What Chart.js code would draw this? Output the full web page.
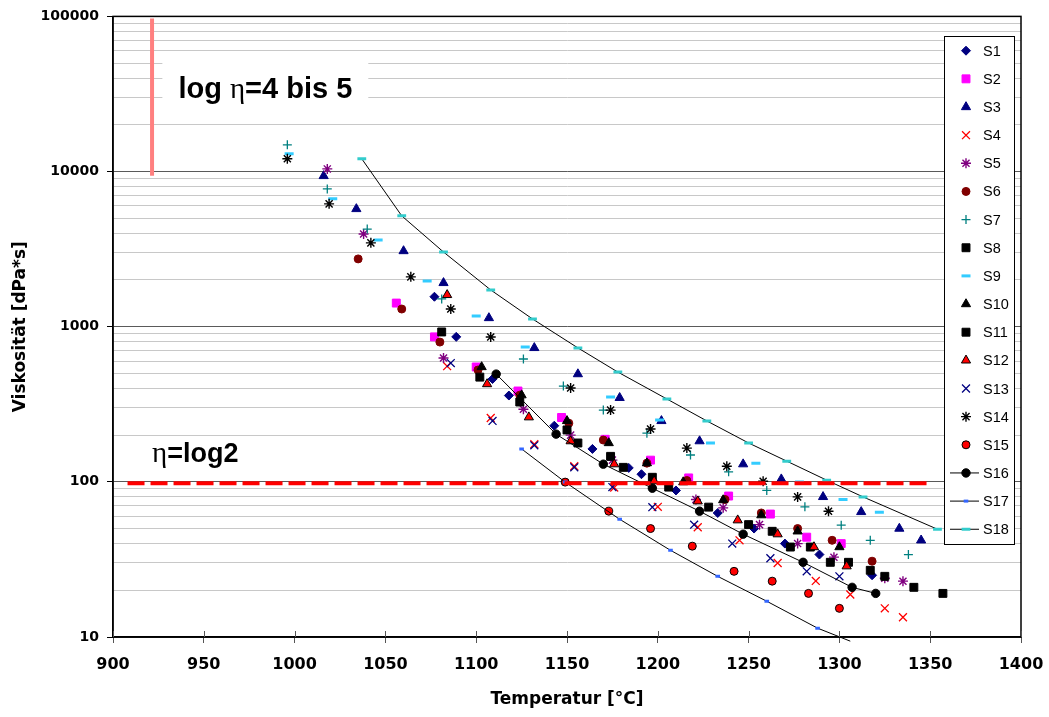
<!DOCTYPE html>
<html>
<head>
<meta charset="utf-8">
<script src="https://cdn.jsdelivr.net/npm/chart.js@4.4.1/dist/chart.umd.min.js"></script>
<style>
  html, body { margin: 0; padding: 0; background: #fff; }
  canvas { display: block; }
</style>
</head>
<body>
<canvas id="viscChart" width="1049" height="717"></canvas>
<script>
// Temperature (°C) / viscosity (dPa*s) per series
const S1x = [1077, 1089, 1109, 1118, 1143, 1164, 1184, 1191, 1210, 1233, 1253, 1270, 1289, 1318];
const S1y = [1560, 860, 460, 360, 230, 163, 123, 112, 88, 63, 50, 40, 34, 25];
const S2x = [1056, 1077, 1100, 1123, 1147, 1171, 1196, 1217, 1239, 1262, 1282, 1301];
const S2y = [1420, 860, 550, 385, 260, 188, 138, 106, 81, 62, 44, 40];
const S3x = [1016, 1034, 1060, 1082, 1107, 1132, 1156, 1179, 1202, 1223, 1247, 1268, 1291, 1312, 1333, 1345];
const S3y = [9370, 5740, 3075, 1915, 1138, 730, 495, 348, 247, 183, 130, 104, 80, 64, 50, 42];
const S4x = [1084, 1108, 1132, 1154, 1176, 1200, 1222, 1245, 1266, 1287, 1306, 1325, 1335];
const S4y = [557, 258, 175, 126, 92, 69, 51, 42, 30, 23, 18.8, 15.3, 13.4];
const S5x = [1018, 1038, 1082, 1126, 1152, 1175, 1221, 1236, 1256, 1277, 1297, 1325, 1335];
const S5y = [10400, 3960, 628, 294, 200, 138, 77, 68, 53, 40, 32.7, 23.9, 22.9];
const S6x = [1035, 1059, 1080, 1101, 1124, 1151, 1170, 1194, 1216, 1237, 1257, 1277, 1296, 1318];
const S6y = [2735, 1300, 796, 526, 362, 239, 186, 132, 102, 77, 63, 50, 42, 30.8];
const S7x = [996, 1018, 1040, 1081, 1126, 1148, 1170, 1194, 1218, 1239, 1260, 1281, 1301, 1317, 1338];
const S7y = [14860, 7730, 4260, 1510, 619, 414, 290, 206, 149, 116, 88, 69, 52.6, 42, 34];
const S8x = [1081, 1124, 1156, 1181, 1206, 1250, 1273, 1295, 1317, 1341, 1357];
const S8y = [925, 327, 178, 124, 92.5, 53, 38, 30.3, 26.9, 20.9, 19.1];
const S9x = [997, 1021, 1046, 1073, 1100, 1127, 1174, 1201, 1229, 1254, 1278, 1302, 1322];
const S9y = [13000, 6670, 3620, 1970, 1172, 740, 352, 250, 178, 132, 99.6, 77, 63.7];
const S10x = [1103, 1125, 1150, 1173, 1194, 1214, 1236, 1257, 1277, 1300];
const S10y = [550, 362, 247, 178, 132, 99.6, 76.3, 61, 48, 38];
const S11x = [1102, 1150, 1174, 1197, 1228, 1263, 1284, 1305, 1325];
const S11y = [473, 216, 146, 107, 68.7, 48, 38, 30.3, 24.6];
const S12x = [1084, 1106, 1129, 1152, 1176, 1198, 1222, 1244, 1266, 1286, 1304];
const S12y = [1603, 427, 261, 183, 130, 101, 75, 56.6, 46, 38, 28.6];
const S13x = [1086, 1109, 1132, 1154, 1175, 1197, 1220, 1241, 1262, 1282, 1300];
const S13y = [583, 247, 172, 124, 92.5, 68.7, 53, 40, 32.2, 26.5, 24.6];
const S14x = [996, 1019, 1042, 1064, 1086, 1108, 1152, 1174, 1196, 1216, 1238, 1258, 1277, 1294];
const S14y = [12080, 6190, 3470, 2095, 1300, 859, 403, 290, 219, 165, 126, 101, 80, 64.7];
const S15x = [1149, 1173, 1196, 1219, 1242, 1263, 1283, 1300];
const S15y = [99.6, 64.7, 50, 38.5, 26.5, 22.9, 19.1, 15.3];
const S16x = [1111, 1144, 1170, 1197, 1223, 1247, 1280, 1307, 1320];
const S16y = [495, 203, 130, 91, 64.7, 46, 30.3, 20.9, 19.1];
const S17x = [1125, 1149, 1179, 1207, 1233, 1260, 1288, 1306];
const S17y = [163, 99.6, 57.4, 36.2, 24.6, 17, 11.4, 9.4];
const S18x = [1037, 1059, 1082, 1108, 1131, 1156, 1178, 1205, 1227, 1250, 1271, 1293, 1313, 1354];
const S18y = [12080, 5180, 3030, 1725, 1122, 730, 510, 342, 247, 178, 136, 102.5, 80, 49.5];

const seriesNames = ["S1", "S2", "S3", "S4", "S5", "S6", "S7", "S8", "S9",
  "S10", "S11", "S12", "S13", "S14", "S15", "S16", "S17", "S18"];
const seriesX = [S1x, S2x, S3x, S4x, S5x, S6x, S7x, S8x, S9x, S10x, S11x, S12x, S13x, S14x, S15x, S16x, S17x, S18x];
const seriesY = [S1y, S2y, S3y, S4y, S5y, S6y, S7y, S8y, S9y, S10y, S11y, S12y, S13y, S14y, S15y, S16y, S17y, S18y];

// reference lines
const limitLineX = [908, 1349];   // eta = log2
const limitLineY = [98, 98];
const rangeLineX = [921.5, 921.5]; // log eta = 4 .. 5
const rangeLineY = [9400, 97000];

// axis ticks
const xTickLabels = ["900", "950", "1000", "1050", "1100", "1150", "1200", "1250", "1300", "1350", "1400"];
const yTickLabels = ["10", "100", "1000", "10000", "100000"];

// text labels (x / y of text start)
const rangeLabelPos = [936, 29800];
const limitLabelPos = [921.5, 134];

// marker styles per series
const styles = [
  { ps: "rectRot", r: 4.5, fill: "#000080", stroke: "#000080", bw: 1 },
  { ps: "rect", r: 5.6, fill: "#ff00ff", stroke: "#ff00ff", bw: 1 },
  { ps: "triangle", r: 5.3, fill: "#000080", stroke: "#000080", bw: 1 },
  { ps: "crossRot", r: 5.6, fill: "#ff0000", stroke: "#ff0000", bw: 1.3 },
  { ps: "star", r: 5, fill: "#800080", stroke: "#800080", bw: 1.4 },
  { ps: "circle", r: 4, fill: "#800000", stroke: "#800000", bw: 1 },
  { ps: "cross", r: 4.5, fill: "#008080", stroke: "#008080", bw: 1.3 },
  { ps: "rect", r: 5.6, fill: "#000000", stroke: "#000000", bw: 1 },
  { ps: "line", r: 4.5, fill: "#33ccff", stroke: "#33ccff", bw: 3 },
  { ps: "triangle", r: 5.3, fill: "#000000", stroke: "#000000", bw: 1 },
  { ps: "rect", r: 5.6, fill: "#000000", stroke: "#000000", bw: 1 },
  { ps: "triangle", r: 5.3, fill: "#ff0000", stroke: "#000000", bw: 1 },
  { ps: "crossRot", r: 5.6, fill: "#000080", stroke: "#000080", bw: 1.3 },
  { ps: "star", r: 5, fill: "#000000", stroke: "#000000", bw: 1.4 },
  { ps: "circle", r: 4, fill: "#ff0000", stroke: "#000000", bw: 1 },
  { ps: "circle", r: 4.2, fill: "#000000", stroke: "#000000", bw: 1, line: true },
  { ps: "line", r: 2.3, fill: "#3366ff", stroke: "#3366ff", bw: 3, line: true },
  { ps: "line", r: 4.4, fill: "#33cccc", stroke: "#33cccc", bw: 3, line: true },
];

const FONT = '"DejaVu Sans", Arial, sans-serif';

function isDecade(v) {
  const l = Math.log10(v);
  return Math.abs(l - Math.round(l)) < 1e-9;
}

// gridline values: 1..9 per decade
const yGridValues = [];
for (let e = 1; e <= 4; e++) {
  for (let m = 1; m <= 9; m++) yGridValues.push(m * Math.pow(10, e));
}
yGridValues.push(100000);

const datasets = seriesNames.map((name, i) => {
  const s = styles[i];
  return {
    label: name,
    data: seriesX[i].map((x, j) => ({ x: x, y: seriesY[i][j] })),
    showLine: !!s.line,
    borderColor: "#000000",
    borderWidth: 1,
    pointStyle: s.ps,
    // no marker for points that fall below the axis
    pointRadius: c => (c.raw && c.raw.y < 10 ? 0 : s.r),
    pointBackgroundColor: s.fill,
    pointBorderColor: s.stroke,
    pointBorderWidth: s.bw,
    order: 18 - i,
    clip: 10,
  };
});

datasets.push({
  label: "limit",
  data: limitLineX.map((x, j) => ({ x: x, y: limitLineY[j] })),
  showLine: true,
  borderColor: "#ff0000",
  borderWidth: 4,
  borderDash: [17, 6],
  pointRadius: 0,
  order: 0,
});
datasets.push({
  label: "range",
  data: rangeLineX.map((x, j) => ({ x: x, y: rangeLineY[j] })),
  showLine: true,
  borderColor: "#ff8080",
  borderWidth: 4,
  pointRadius: 0,
  order: 19,
});

function drawParts(ctx, parts, x, y) {
  let cx = x;
  parts.forEach(p => {
    ctx.font = p[1];
    ctx.fillText(p[0], cx, y);
    cx += ctx.measureText(p[0]).width;
  });
}
function partsWidth(ctx, parts) {
  let w = 0;
  parts.forEach(p => { ctx.font = p[1]; w += ctx.measureText(p[0]).width; });
  return w;
}

const annotations = {
  id: "annotations",
  beforeDatasetsDraw(chart) {
    const { ctx, scales: { x, y } } = chart;
    ctx.save();
    ctx.textBaseline = "alphabetic";
    const bold29 = 'bold 29px "Liberation Sans", Arial, sans-serif';
    const thin29 = '29px "Liberation Serif", serif';
    const rangeParts = [["log ", bold29], ["\u03b7", thin29], ["=4 bis 5", bold29]];
    const lx = x.getPixelForValue(rangeLabelPos[0]);
    const ly = y.getPixelForValue(rangeLabelPos[1]);
    const w = partsWidth(ctx, rangeParts);
    ctx.fillStyle = "#ffffff";
    ctx.fillRect(lx - 16, ly - 42, w + 32, 55);
    ctx.fillStyle = "#000000";
    drawParts(ctx, rangeParts, lx, ly);

    const bold27 = 'bold 27px "Liberation Sans", Arial, sans-serif';
    const thin27 = '29px "Liberation Serif", serif';
    drawParts(ctx, [["\u03b7", thin27], ["=log2", bold27]],
      x.getPixelForValue(limitLabelPos[0]), y.getPixelForValue(limitLabelPos[1]));
    ctx.restore();
  },
  afterDraw(chart) {
    const { ctx, chartArea: a, scales: { x } } = chart;
    ctx.save();
    // frame
    ctx.strokeStyle = "#000000";
    ctx.lineWidth = 1.5;
    ctx.strokeRect(a.left, a.top, a.right - a.left, a.bottom - a.top);
    // inner halves of x ticks
    ctx.lineWidth = 1;
    ctx.strokeStyle = "#555555";
    x.ticks.forEach(t => {
      const px = Math.round(x.getPixelForValue(t.value)) + 0.5;
      ctx.beginPath();
      ctx.moveTo(px, a.bottom);
      ctx.lineTo(px, a.bottom - 6);
      ctx.stroke();
    });

    // legend
    const box = { left: 944, top: 36, right: 1014, bottom: 544 };
    ctx.fillStyle = "#ffffff";
    ctx.fillRect(box.left, box.top, box.right - box.left, box.bottom - box.top);
    ctx.strokeStyle = "#000000";
    ctx.lineWidth = 1;
    ctx.strokeRect(box.left + 0.5, box.top + 0.5, box.right - box.left, box.bottom - box.top);
    ctx.font = '14.5px "Liberation Sans", Arial, sans-serif';
    ctx.textBaseline = "middle";
    const drawPoint = Chart.helpers && Chart.helpers.drawPoint;
    seriesNames.forEach((name, i) => {
      const s = styles[i];
      const cy = 50.7 + i * 28.15;
      if (s.line) {
        ctx.strokeStyle = "#000000";
        ctx.lineWidth = 1;
        ctx.beginPath();
        ctx.moveTo(950, cy);
        ctx.lineTo(979, cy);
        ctx.stroke();
      }
      ctx.fillStyle = s.fill;
      ctx.strokeStyle = s.stroke;
      ctx.lineWidth = s.bw;
      if (drawPoint) {
        drawPoint(ctx, { pointStyle: s.ps, radius: s.r, rotation: 0, borderWidth: s.bw }, 966, cy);
      }
      ctx.fillStyle = "#000000";
      ctx.fillText(name, 983, cy + 1);
    });
    ctx.restore();
  },
};

new Chart(document.getElementById("viscChart"), {
  type: "scatter",
  data: { datasets: datasets },
  options: {
    responsive: false,
    animation: false,
    events: [],
    layout: { padding: { left: 0, top: 16, right: 28, bottom: 0 } },
    plugins: {
      legend: { display: false },
      tooltip: { enabled: false },
    },
    scales: {
      x: {
        type: "linear",
        min: 900,
        max: 1400,
        afterFit: scale => {
          scale.height = 80;
          scale.paddingLeft = 0;
          scale.paddingRight = 0;
        },
        afterBuildTicks: scale => {
          scale.ticks = xTickLabels.map(l => ({ value: Number(l) }));
        },
        ticks: {
          color: "#000000",
          padding: 12,
          maxRotation: 0,
          autoSkip: false,
          font: { family: FONT, size: 16, weight: "bold" },
          callback: value => String(value),
        },
        grid: {
          drawOnChartArea: false,
          drawTicks: true,
          tickLength: 6,
          tickColor: "#555555",
        },
        border: { color: "#000000", width: 1.5 },
        title: {
          display: true,
          text: "Temperatur [°C]",
          color: "#000000",
          padding: { top: 4, bottom: 7 },
          font: { family: FONT, size: 17, weight: "bold" },
        },
      },
      y: {
        type: "logarithmic",
        min: 10,
        max: 100000,
        afterFit: scale => { scale.width = 113; },
        afterBuildTicks: scale => {
          scale.ticks = yGridValues.map(v => ({ value: v }));
        },
        ticks: {
          color: "#000000",
          padding: 8,
          autoSkip: false,
          font: { family: FONT, size: 14, weight: "bold" },
          callback: value => (isDecade(value) && yTickLabels.includes(String(value)) ? String(value) : ""),
        },
        grid: {
          color: c => (isDecade(c.tick.value) ? "#5a5a5a" : "#c8c8c8"),
          tickColor: c => (isDecade(c.tick.value) ? "#000000" : "rgba(0,0,0,0)"),
          tickLength: 6,
        },
        border: { color: "#000000", width: 1.5 },
        title: {
          display: true,
          text: "Viskosität [dPa*s]",
          color: "#000000",
          padding: { top: 10, bottom: 4 },
          font: { family: FONT, size: 17, weight: "bold" },
        },
      },
    },
  },
  plugins: [annotations],
});
</script>
</body>
</html>
